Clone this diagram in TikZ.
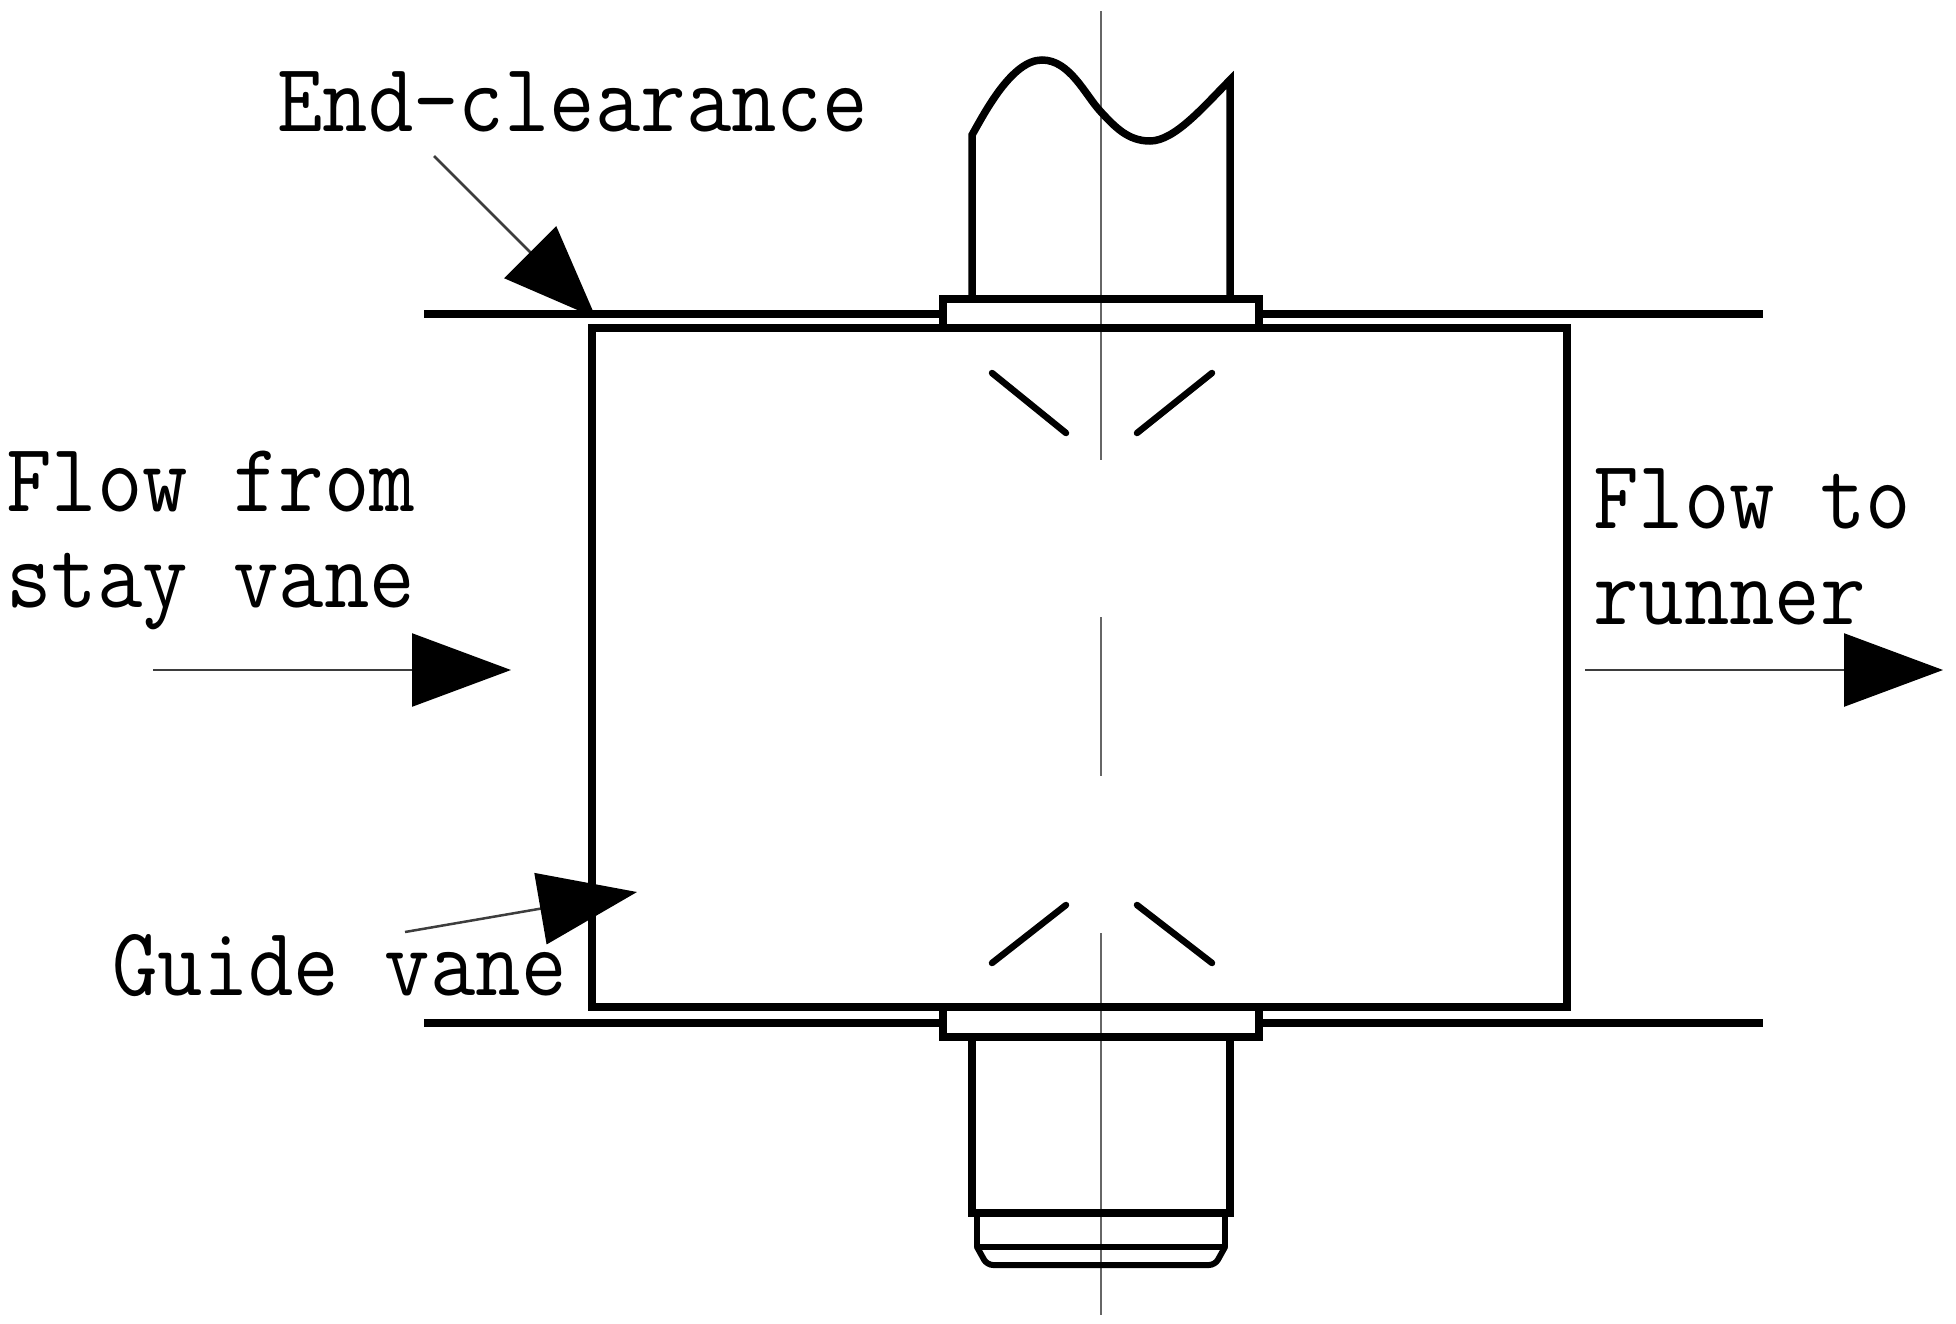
\documentclass[tikz,border=0pt]{standalone}
\usepackage{fontspec}
\usetikzlibrary{arrows.meta}
\newfontfamily\vanefont[FakeStretch=0.9]{Latin Modern Mono}
\newlength{\du}
\setlength{\du}{1pt}
\definecolor{dialinecolor}{rgb}{0.000000, 0.000000, 0.000000}
\definecolor{axiscolor}{rgb}{0.400000, 0.400000, 0.400000}
\tikzset{
  heavyline/.style={draw=dialinecolor,line width=7.5\du,line join=miter},
  vaneline/.style={draw=dialinecolor,line width=6.5\du,line cap=round},
  capline/.style={draw=dialinecolor,line width=6\du,line join=round},
  axisline/.style={draw=axiscolor,line width=2.5\du},
  pointer/.style={draw=axiscolor!60!black,line width=2.5\du},
  vanelabelstyle/.style={anchor=base west,inner sep=0pt,align=left,text=dialinecolor,
    font=\fontsize{98pt}{95.5pt}\selectfont\vanefont},
}
\begin{document}
\begin{tikzpicture}
\pgftransformxscale{1.000000}
\pgftransformyscale{-1.000000}
\useasboundingbox (0\du,0\du) rectangle (1956\du,1323\du);
\draw[axisline] (1101\du,11\du)--(1101\du,460\du);
\draw[axisline] (1101\du,617\du)--(1101\du,776\du);
\draw[axisline] (1101\du,933\du)--(1101\du,1315\du);
\draw[heavyline] (424\du,314\du)--(943\du,314\du);
\draw[heavyline] (1259\du,314\du)--(1763\du,314\du);
\draw[heavyline] (424\du,1023\du)--(943\du,1023\du);
\draw[heavyline] (1259\du,1023\du)--(1763\du,1023\du);
\draw[heavyline] (592\du,328\du)--(592\du,1007\du)--(1567\du,1007\du)--(1567\du,328\du)--cycle;
\draw[heavyline] (943\du,299\du)--(943\du,328\du)--(1259\du,328\du)--(1259\du,299\du)--cycle;
\draw[heavyline] (943\du,1007\du)--(943\du,1037\du)--(1259\du,1037\du)--(1259\du,1007\du)--cycle;
\draw[heavyline] (972\du,299\du)--(972\du,135\du) .. controls (985\du,112\du) and (1012\du,60\du) .. (1042\du,60\du) .. controls (1070\du,60\du) and (1085\du,95\du) .. (1101\du,112\du) .. controls (1115\du,127\du) and (1128\du,141\du) .. (1150\du,141\du) .. controls (1175\du,141\du) and (1205\du,105\du) .. (1230\du,80\du)--(1230\du,299\du);
\draw[heavyline] (972\du,1037\du)--(972\du,1213\du)--(1230\du,1213\du)--(1230\du,1037\du);
\draw[capline] (977\du,1213\du)--(977\du,1247\du)--(1225\du,1247\du)--(1225\du,1213\du);
\draw[capline,rounded corners=6\du] (977\du,1247\du)--(987\du,1265\du)--(1215\du,1265\du)--(1225\du,1247\du);
\draw[vaneline] (992\du,373\du)--(1066\du,433\du);
\draw[vaneline] (1212\du,373\du)--(1137\du,433\du);
\draw[vaneline] (992\du,963\du)--(1066\du,905\du);
\draw[vaneline] (1212\du,963\du)--(1137\du,905\du);
\node[vanelabelstyle] (clearancelabel) at (277\du,131\du) {End-clearance};
\node[vanelabelstyle] (inflowlabel) at (6\du,607\du) {Flow from\\stay vane};
\node[vanelabelstyle] (outflowlabel) at (1593\du,624\du) {Flow to\\runner};
\node[vanelabelstyle] (vanelabel) at (112\du,995\du) {Guide vane};
\coordinate (clearancetail) at (434\du,156\du);
\coordinate (clearancetip) at (596\du,318\du);
\coordinate (vanetail) at (405\du,932\du);
\coordinate (vanetip) at (637\du,892\du);
\coordinate (inflowtail) at (153\du,670\du);
\coordinate (inflowtip) at (511\du,670\du);
\coordinate (outflowtail) at (1585\du,670\du);
\coordinate (outflowtip) at (1943\du,670\du);
\draw[pointer,-{Triangle[length=93pt,width=73pt,color=dialinecolor,fill=dialinecolor]}] (clearancetail)--(clearancetip);
\draw[pointer,-{Triangle[length=98pt,width=72pt,color=dialinecolor,fill=dialinecolor]}] (vanetail)--(vanetip);
\draw[pointer,-{Triangle[length=99pt,width=73pt,color=dialinecolor,fill=dialinecolor]}] (inflowtail)--(inflowtip);
\draw[pointer,-{Triangle[length=99pt,width=73pt,color=dialinecolor,fill=dialinecolor]}] (outflowtail)--(outflowtip);
\end{tikzpicture}
\end{document}
